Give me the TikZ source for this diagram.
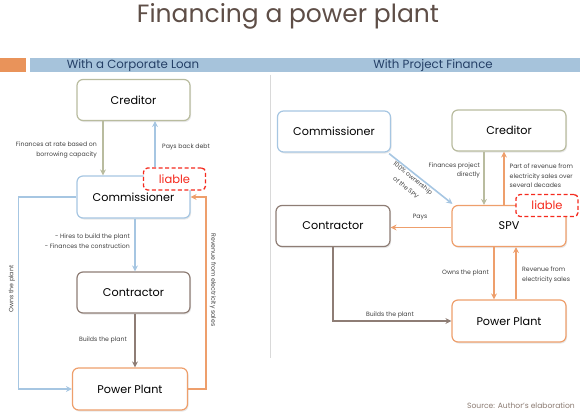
\documentclass[tikz,border=0pt]{standalone}
\usepackage{fontspec}
\setmainfont{Poppins}
\usetikzlibrary{arrows.meta,shadows}
\definecolor{cblue}{HTML}{A6C6E2}
\definecolor{colive}{HTML}{B9BC9F}
\definecolor{cbrown}{HTML}{8E7D75}
\definecolor{corange}{HTML}{EE9F6C}
\definecolor{cred}{HTML}{F52A1E}
\definecolor{barblue}{HTML}{A6C3DB}
\definecolor{barorange}{HTML}{E9935A}
\definecolor{titlec}{HTML}{5E4E47}
\definecolor{headc}{HTML}{243F66}
\definecolor{labc}{HTML}{404040}
\definecolor{srcc}{HTML}{8B7B72}
\tikzset{
  box/.style={draw, rounded corners=6pt, line width=1.2pt, fill=white,
    minimum width=113pt, minimum height=41pt, inner sep=0pt,
    font=\fontsize{11.2}{13}\selectfont, text=black,
    drop shadow={opacity=0.18, shadow xshift=1pt, shadow yshift=-1.5pt}},
  liab/.style={draw=cred, dashed, dash pattern=on 4pt off 2.5pt, rounded corners=4pt,
    line width=1.3pt, fill=white, minimum width=62pt, minimum height=22pt,
    inner sep=0pt, text=cred, font=\fontsize{11.5}{12}\selectfont},
  arr/.style={line width=1.6pt, -{Stealth[length=6pt,width=6pt]}},
  lab/.style={text=labc, font=\fontsize{6.2}{9.5}\selectfont, inner sep=0pt}
}
\begin{document}
\begin{tikzpicture}[x=1pt,y=-1pt]
\useasboundingbox (0,0) rectangle (580,417);
% title and header
\node[text=titlec, font=\fontsize{25}{28}\selectfont, anchor=base] (title) at (288,23) {Financing a power plant};
\fill[barorange] (0,58.3) rectangle (26,72.3);
\fill[barblue] (30,58.3) rectangle (580,72.3);
\node[text=headc, font=\fontsize{11.8}{12}\selectfont] (h1) at (133,65.3) {With a Corporate Loan};
\node[text=headc, font=\fontsize{11.8}{12}\selectfont] (h2) at (433,65.3) {With Project Finance};
\draw[black!15, line width=0.8pt] (270,75) -- (270,358);

% ---------------- left side
\node[box, draw=colive] (cred1) at (133.5,100) {Creditor};
\node[box, draw=cblue, minimum height=42pt] (com1) at (133.5,197) {Commissioner};
\node[box, draw=cbrown] (con1) at (133.5,292.5) {Contractor};
\node[box, draw=corange, minimum width=115pt, minimum height=42pt] (pp1) at (130,389) {Power Plant};
\node[liab] (lia1) at (174.5,179) {liable};

\draw[arr, colive] ([xshift=-30.5pt]cred1.south) -- ([xshift=-30.5pt]com1.north);
\draw[arr, cblue] ([xshift=-19.5pt]lia1.north) -- ([xshift=-19.5pt]lia1.north |- cred1.south);
\draw[arr, cblue] ([xshift=1.5pt]com1.south) -- ([xshift=1.5pt]con1.north);
\draw[arr, cbrown] ([xshift=1.5pt]con1.south) -- ([xshift=1.5pt]con1.south |- pp1.north);
\draw[arr, cblue] (com1.west) -- ++(-58,0) |- (pp1.west);
\draw[arr, corange] (pp1.east) -- ++(18,0) |- (com1.east);

\node[lab, align=right, anchor=east] (l1) at (97,150) {Finances at rate based on\\borrowing capacity};
\node[lab, anchor=west] (l2) at (162,147) {Pays back debt};
\node[lab, align=right, anchor=east] (l3) at (130,241) {- Hires to build the plant\\- Finances the construction};
\node[lab] (l4) at (103,340) {Builds the plant};
\node[lab, rotate=90] (l5) at (12,289) {Owns the plant};
\node[lab, rotate=-90] (l6) at (213,280) {Revenue from electricity sales};

% ---------------- right side
\node[box, draw=cblue] (com2) at (334,131.5) {Commissioner};
\node[box, draw=colive, minimum width=114pt] (cred2) at (509,130.5) {Creditor};
\node[box, draw=cbrown, minimum width=114pt] (con2) at (333,226) {Contractor};
\node[box, draw=corange, minimum width=114pt] (spv) at (509,226) {SPV};
\node[box, draw=corange, minimum width=114pt, minimum height=42pt] (pp2) at (509,321) {Power Plant};
\node[liab] (lia2) at (547,205.5) {liable};

\draw[arr, cblue] ([xshift=-2pt,yshift=-1pt]com2.south east) -- ([xshift=1pt,yshift=1pt]spv.north west);
\draw[arr, colive] ([xshift=-25pt]cred2.south) -- ([xshift=-25pt]spv.north);
\draw[arr, corange] ([xshift=-5pt]spv.north) -- ([xshift=-5pt]cred2.south);
\draw[arr, corange] ([yshift=-1.5pt]spv.west) -- ([yshift=-1.5pt]con2.east);
\draw[arr, corange] ([xshift=-15pt]spv.south) -- ([xshift=-15pt]pp2.north);
\draw[arr, corange] ([xshift=7pt]pp2.north) -- ([xshift=7pt]spv.south);
\draw[arr, cbrown] (con2.south) |- (pp2.west);

\node[lab, align=right, anchor=east] (r1) at (480,170.5) {Finances project\\directly};
\node[lab, align=left, anchor=west] (r2) at (509.5,176) {Part of revenue from\\electricity sales over\\several decades};
\node[lab] (r3) at (420,217) {Pays};
\node[lab, anchor=east] (r4) at (489,273) {Owns the plant};
\node[lab, align=left, anchor=west] (r5) at (522,275) {Revenue from\\electricity sales};
\node[lab] (r6) at (390,315) {Builds the plant};
\node[lab, rotate=-39] (r7a) at (412.5,178.5) {100\% ownership};
\node[lab, rotate=-39] (r7b) at (406,187.5) {of the SPV};

\node[text=srcc, font=\fontsize{7.6}{8}\selectfont, anchor=east, inner sep=0pt] (src) at (575,405.5) {Source: Author's elaboration};
\end{tikzpicture}
\end{document}
